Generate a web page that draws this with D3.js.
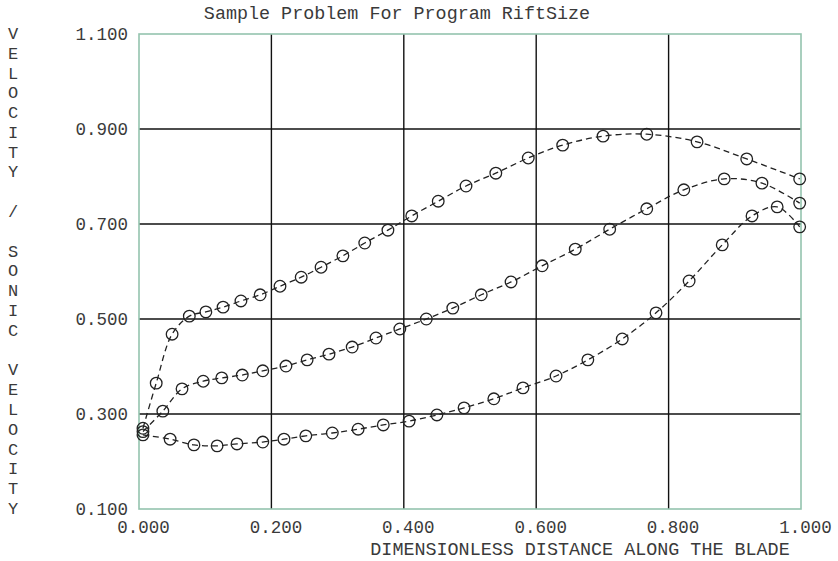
<!DOCTYPE html>
<html>
<head>
<meta charset="utf-8">
<script src="https://cdn.jsdelivr.net/npm/d3@7"></script>
<style>
  html, body { margin: 0; padding: 0; background: #fff; }
  svg text { font-family: "Liberation Mono", "DejaVu Sans Mono", monospace; fill: #3a3a3a; }
</style>
</head>
<body>
<svg id="chart" width="838" height="561"></svg>
<script>
// Velocity ratio along the blade for three runs
const xUpper = [0.006, 0.026, 0.050, 0.076, 0.101, 0.127, 0.154, 0.183, 0.213, 0.245, 0.275, 0.308, 0.341, 0.376, 0.412, 0.452, 0.494, 0.539, 0.588, 0.640, 0.701, 0.767, 0.843, 0.918, 0.998];
const vUpper = [0.270, 0.365, 0.468, 0.506, 0.515, 0.525, 0.538, 0.551, 0.569, 0.588, 0.609, 0.633, 0.660, 0.687, 0.717, 0.748, 0.780, 0.807, 0.839, 0.866, 0.885, 0.889, 0.873, 0.837, 0.795];

const xMiddle = [0.006, 0.036, 0.065, 0.097, 0.125, 0.156, 0.187, 0.222, 0.254, 0.287, 0.322, 0.358, 0.394, 0.434, 0.474, 0.517, 0.562, 0.609, 0.659, 0.711, 0.767, 0.823, 0.884, 0.941, 0.998];
const vMiddle = [0.263, 0.306, 0.353, 0.369, 0.376, 0.382, 0.391, 0.401, 0.414, 0.426, 0.441, 0.460, 0.479, 0.500, 0.523, 0.551, 0.578, 0.612, 0.647, 0.689, 0.732, 0.772, 0.795, 0.786, 0.744];

const xLower = [0.006, 0.047, 0.083, 0.118, 0.148, 0.187, 0.219, 0.252, 0.292, 0.331, 0.369, 0.408, 0.450, 0.491, 0.536, 0.580, 0.630, 0.678, 0.730, 0.781, 0.831, 0.881, 0.926, 0.964, 0.998];
const vLower = [0.256, 0.247, 0.235, 0.233, 0.237, 0.241, 0.247, 0.254, 0.260, 0.268, 0.277, 0.285, 0.298, 0.313, 0.332, 0.355, 0.380, 0.414, 0.458, 0.513, 0.580, 0.656, 0.717, 0.736, 0.694];

const xTicks = [0.0, 0.2, 0.4, 0.6, 0.8, 1.0];
const yTicks = [0.1, 0.3, 0.5, 0.7, 0.9, 1.1];

const titleText = "Sample Problem For Program RiftSize";
const xTitle = "DIMENSIONLESS DISTANCE ALONG THE BLADE";
const yTitle = "VELOCITY / SONIC VELOCITY";

const series = [
  xUpper.map((x, i) => [x, vUpper[i]]),
  xMiddle.map((x, i) => [x, vMiddle[i]]),
  xLower.map((x, i) => [x, vLower[i]])
];

const svg = d3.select("#chart");
const plotLeft = 139, plotRight = 801, plotTop = 34, plotBottom = 509;

const x = d3.scaleLinear().domain([0, 1]).range([plotLeft, plotRight]);
const y = d3.scaleLinear().domain([0.1, 1.1]).range([plotBottom, plotTop]);

// grid lines
const grid = svg.append("g");
grid.selectAll("line.v")
  .data(xTicks.slice(1, -1))
  .join("line")
  .attr("class", "v")
  .attr("x1", d => x(d)).attr("x2", d => x(d))
  .attr("y1", plotTop).attr("y2", plotBottom)
  .attr("stroke", "#111").attr("stroke-width", 1.4);
grid.selectAll("line.h")
  .data(yTicks.slice(1, -1))
  .join("line")
  .attr("class", "h")
  .attr("x1", plotLeft).attr("x2", plotRight)
  .attr("y1", d => y(d)).attr("y2", d => y(d))
  .attr("stroke", "#111").attr("stroke-width", 1.4);

// plot frame
svg.append("rect")
  .attr("x", plotLeft).attr("y", plotTop)
  .attr("width", plotRight - plotLeft).attr("height", plotBottom - plotTop)
  .attr("fill", "none")
  .attr("stroke", "#94c4ae").attr("stroke-width", 1.6);

// tick labels via d3 axes, with axis lines hidden
const fmt = d3.format(".3f");
const xAxis = svg.append("g")
  .attr("transform", `translate(0,${plotBottom})`)
  .call(d3.axisBottom(x).tickValues(xTicks).tickFormat(fmt).tickSize(0).tickPadding(12));
xAxis.select(".domain").remove();
xAxis.selectAll("text")
  .attr("font-size", 17.5)
  .attr("dx", 4)
  .style("font-family", "'Liberation Mono', monospace")
  .attr("fill", "#3a3a3a");

const yAxis = svg.append("g")
  .attr("transform", `translate(${plotLeft},0)`)
  .call(d3.axisLeft(y).tickValues(yTicks).tickFormat(fmt).tickSize(0).tickPadding(11));
yAxis.select(".domain").remove();
yAxis.selectAll("text")
  .attr("font-size", 17.5)
  .style("font-family", "'Liberation Mono', monospace")
  .attr("fill", "#3a3a3a");

// titles
svg.append("text")
  .attr("x", 397).attr("y", 19)
  .attr("text-anchor", "middle")
  .attr("font-size", 18.4)
  .text(titleText);

svg.append("text")
  .attr("x", 580).attr("y", 555)
  .attr("text-anchor", "middle")
  .attr("font-size", 18.4)
  .text(xTitle);

// vertical axis title, one character per line
const yChars = yTitle.split("");
const yFirst = 33, yLast = 508;
const yStep = (yLast - yFirst) / (yChars.length - 1);
svg.append("g").selectAll("text")
  .data(yChars)
  .join("text")
  .attr("x", 13)
  .attr("y", (d, i) => yFirst + i * yStep)
  .attr("dy", "0.35em")
  .attr("text-anchor", "middle")
  .attr("font-size", 17)
  .text(d => d);

// dashed curves
const line = d3.line()
  .x(d => x(d[0]))
  .y(d => y(d[1]))
  .curve(d3.curveCatmullRom.alpha(0.5));

svg.append("g").selectAll("path")
  .data(series)
  .join("path")
  .attr("d", line)
  .attr("fill", "none")
  .attr("stroke", "#222")
  .attr("stroke-width", 1.3)
  .attr("stroke-dasharray", "6,4");

// circle markers
svg.append("g").selectAll("g")
  .data(series)
  .join("g")
  .selectAll("circle")
  .data(d => d)
  .join("circle")
  .attr("cx", d => x(d[0]))
  .attr("cy", d => y(d[1]))
  .attr("r", 5.8)
  .attr("fill", "none")
  .attr("stroke", "#222")
  .attr("stroke-width", 1.3);
</script>
</body>
</html>
